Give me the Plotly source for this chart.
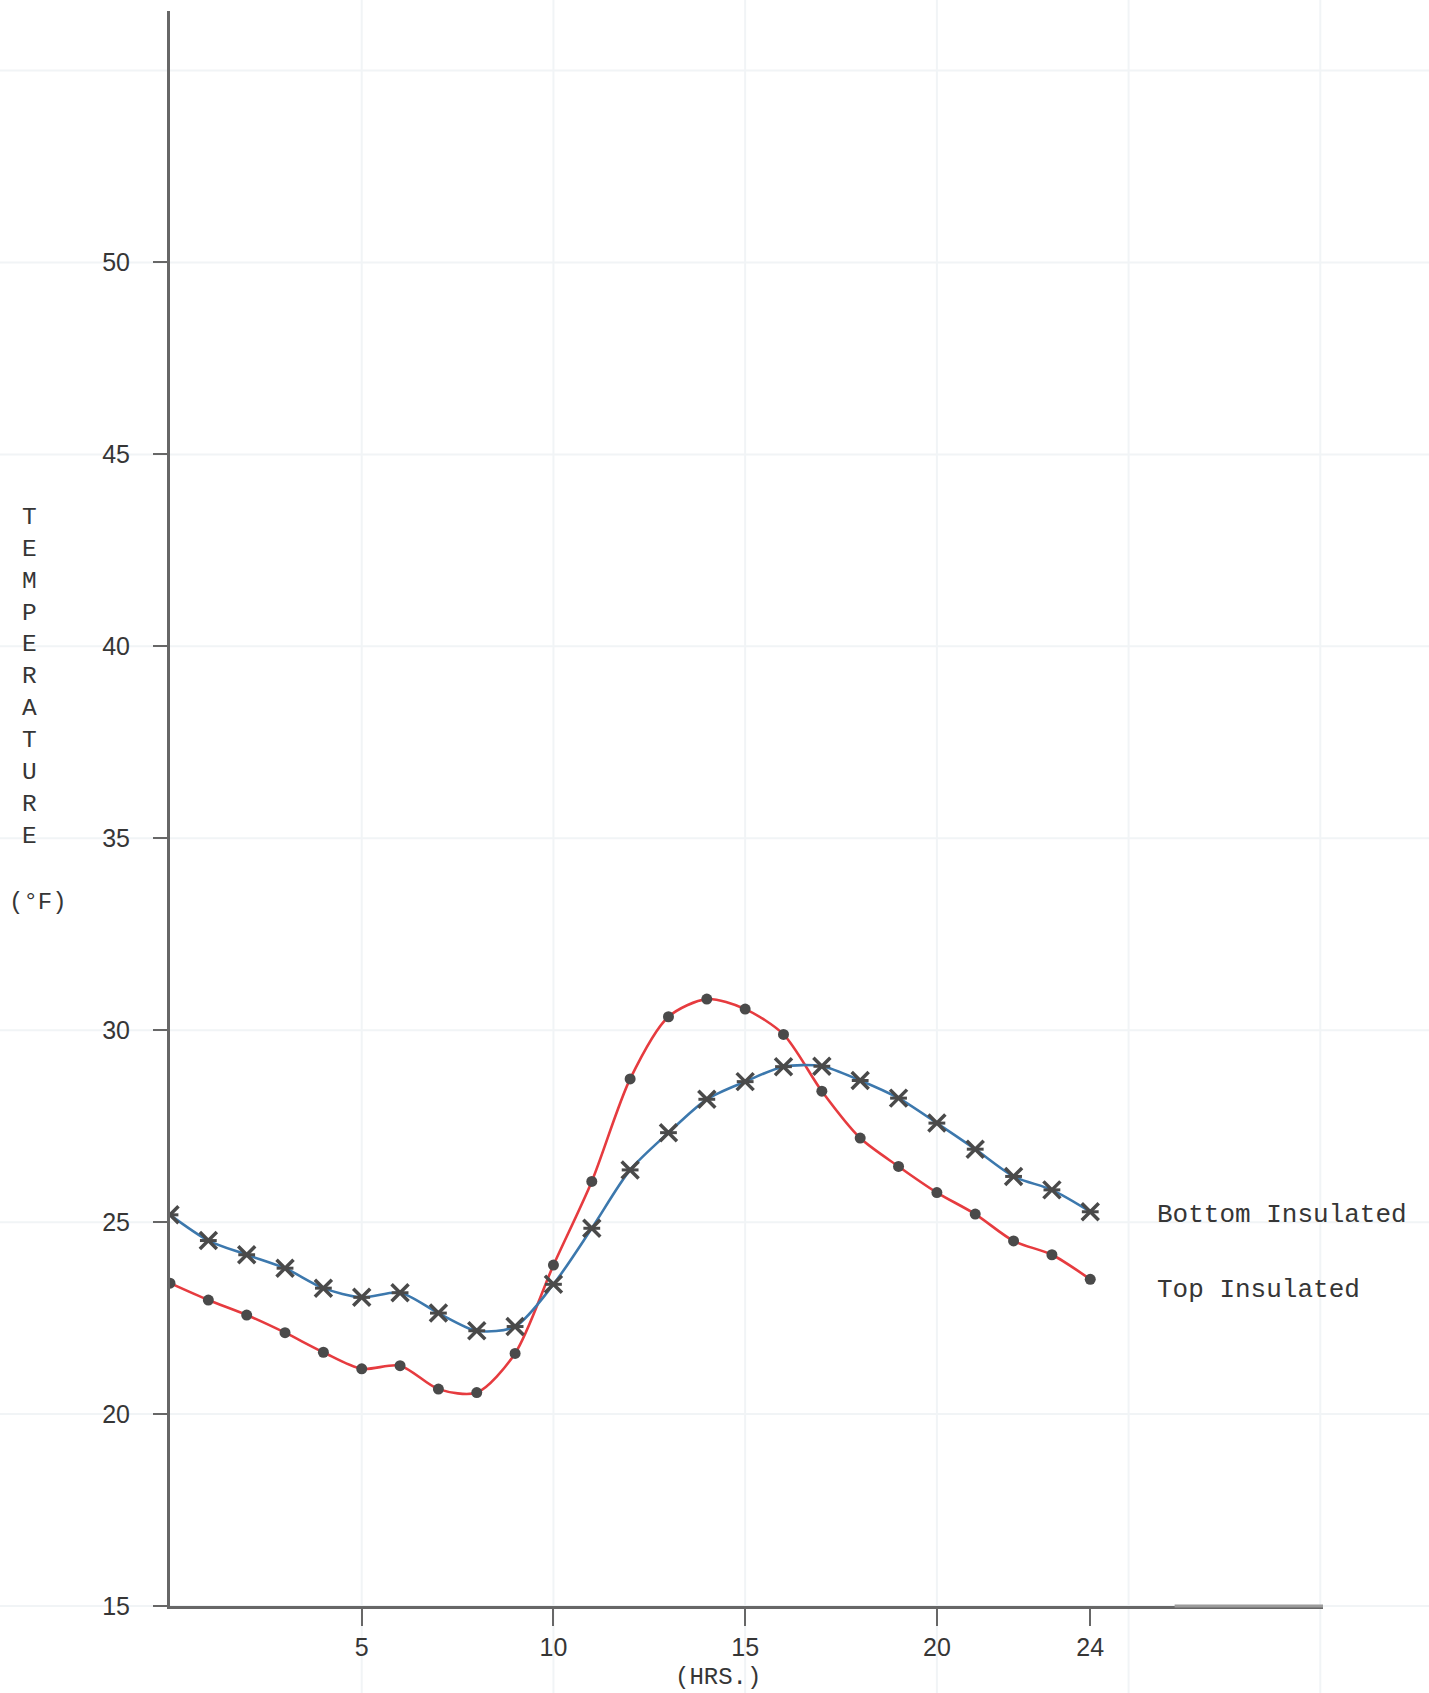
import plotly.graph_objects as go

# Hourly temperature readings (°F) over one day
hours = list(range(25))
bottom_insulated = [25.19, 24.52, 24.15, 23.80, 23.28, 23.04, 23.16, 22.63, 22.17, 22.28,
                    23.38, 24.84, 26.36, 27.33, 28.20, 28.66, 29.05, 29.06, 28.69, 28.23,
                    27.58, 26.90, 26.19, 25.84, 25.27]
top_insulated = [23.41, 22.97, 22.58, 22.12, 21.61, 21.18, 21.26, 20.65, 20.56, 21.58,
                 23.88, 26.06, 28.73, 30.35, 30.81, 30.55, 29.89, 28.41, 27.19, 26.45,
                 25.77, 25.21, 24.51, 24.15, 23.51]

x_ticks = [5, 10, 15, 20, 24]
y_ticks = [15, 20, 25, 30, 35, 40, 45, 50]
series_names = ["Bottom Insulated", "Top Insulated"]

# Figure geometry
W, H = 1429, 1693
ML, MR, MT, MB = 170, 106, 11, 87
PW, PH = W - ML - MR, H - MT - MB
X_RANGE = [0, 30.07]
Y_RANGE = [15, 56.55]

def px(xv):
    return (xv - X_RANGE[0]) / (X_RANGE[1] - X_RANGE[0])

def py(yv):
    return (yv - Y_RANGE[0]) / (Y_RANGE[1] - Y_RANGE[0])

MARK = "#4a4a4a"
RED = "#e63b3f"
BLUE = "#3c78ad"
AXIS = "#676767"
GRID = "#f1f4f6"
TXT = "#363636"
MONO = "Liberation Mono, Courier New, monospace"

fig = go.Figure()

fig.add_trace(go.Scatter(
    x=hours, y=top_insulated, name=series_names[1], mode="lines+markers",
    line=dict(color=RED, width=2.6, shape="spline", smoothing=0.8),
    marker=dict(symbol="circle", size=11, color=MARK),
))
fig.add_trace(go.Scatter(
    x=hours, y=bottom_insulated, name=series_names[0], mode="lines+markers",
    line=dict(color=BLUE, width=2.6, shape="spline", smoothing=0.8),
    marker=dict(symbol="x-thin", size=17, color=MARK, line=dict(width=3.5, color=MARK)),
))
# horizontal bar through each cross marker
fig.add_trace(go.Scatter(
    x=hours, y=bottom_insulated, mode="markers", showlegend=False, hoverinfo="skip",
    marker=dict(symbol="line-ew", size=12, color=MARK, line=dict(width=3, color=MARK)),
))

# Faint graph-paper grid running across the whole sheet
shapes = []
for gv in range(15, 60, 5):
    shapes.append(dict(type="line", xref="paper", yref="paper", layer="below",
                       x0=-ML / PW, x1=1 + MR / PW, y0=py(gv), y1=py(gv),
                       line=dict(color=GRID, width=2)))
for gx in range(5, 35, 5):
    shapes.append(dict(type="line", xref="paper", yref="paper", layer="below",
                       x0=px(gx), x1=px(gx), y0=-MB / PH, y1=1 + MT / PH,
                       line=dict(color=GRID, width=2)))
# lighter, faded tail of the time axis
shapes.append(dict(type="line", xref="paper", yref="paper", layer="above",
                   x0=px(26.2), x1=1, y0=0, y1=0,
                   line=dict(color="#9c9c9c", width=3)))

annotations = [
    dict(text=series_names[0], x=25.7, y=25.19, xref="x", yref="y",
         xanchor="left", yanchor="middle", showarrow=False,
         font=dict(family=MONO, size=26, color=TXT)),
    dict(text=series_names[1], x=25.7, y=23.23, xref="x", yref="y",
         xanchor="left", yanchor="middle", showarrow=False,
         font=dict(family=MONO, size=26, color=TXT)),
    dict(text="<br>".join("TEMPERATURE"), xref="paper", yref="paper",
         x=(29 - ML) / PW, y=1 - (502 - MT) / PH, xanchor="center", yanchor="top",
         showarrow=False, font=dict(family=MONO, size=24.5, color=TXT)),
    dict(text="(°F)", xref="paper", yref="paper",
         x=(38 - ML) / PW, y=1 - (902 - MT) / PH, xanchor="center", yanchor="middle",
         showarrow=False, font=dict(family=MONO, size=24, color=TXT)),
    dict(text="(HRS.)", xref="paper", yref="paper",
         x=(718 - ML) / PW, y=1 - (1677 - MT) / PH, xanchor="center", yanchor="middle",
         showarrow=False, font=dict(family=MONO, size=24, color=TXT)),
]

fig.update_layout(
    width=W, height=H,
    margin=dict(l=ML, r=MR, t=MT, b=MB, pad=0),
    paper_bgcolor="white", plot_bgcolor="white",
    showlegend=False,
    shapes=shapes,
    annotations=annotations,
    xaxis=dict(range=X_RANGE, tickvals=x_ticks, showgrid=False, zeroline=False,
               showline=True, linecolor=AXIS, linewidth=3,
               ticks="outside", ticklen=17, tickwidth=2, tickcolor=AXIS,
               tickfont=dict(family="Liberation Sans, Arial", size=25, color=TXT)),
    yaxis=dict(range=Y_RANGE, tickvals=y_ticks, showgrid=False, zeroline=False,
               showline=True, linecolor=AXIS, linewidth=3,
               ticks="outside", ticklen=14, tickwidth=2, tickcolor=AXIS,
               ticklabelstandoff=18,
               tickfont=dict(family="Liberation Sans, Arial", size=25, color=TXT)),
)

fig.write_html("out.html")
